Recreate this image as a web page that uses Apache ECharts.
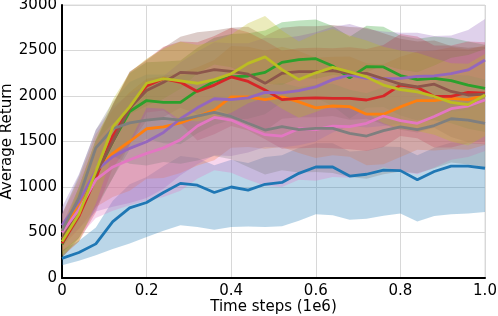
<!DOCTYPE html>
<html>
<head>
<meta charset="utf-8">
<script src="https://cdn.jsdelivr.net/npm/echarts@6/dist/echarts.min.js"></script>
<style>
html,body{margin:0;padding:0;background:#fff;}
#chart{width:498px;height:316px;}
</style>
</head>
<body>
<div id="chart"></div>
<script>
// time steps (1e6)
var steps = [0, 0.04, 0.08, 0.12, 0.16, 0.20, 0.24, 0.28, 0.32, 0.36, 0.40, 0.44, 0.48, 0.52, 0.56, 0.60, 0.64, 0.68, 0.72, 0.76, 0.80, 0.84, 0.88, 0.92, 0.96, 1.00];
var xTickLabels = ['0', '0.2', '0.4', '0.6', '0.8', '1.0'];
var yTickLabels = ['0', '500', '1000', '1500', '2000', '2500', '3000'];

// mean returns
var blueMean   = [216, 280, 375, 619, 770, 830, 940, 1040, 1020, 940, 1000, 965, 1030, 1050, 1150, 1220, 1220, 1120, 1140, 1185, 1180, 1080, 1170, 1230, 1230, 1206];
var orangeMean = [520, 820, 1180, 1370, 1500, 1640, 1660, 1705, 1775, 1845, 1990, 1990, 1960, 1990, 1935, 1870, 1890, 1883, 1800, 1800, 1880, 1950, 1950, 1975, 1960, 2011];
var greenMean  = [370, 720, 1130, 1500, 1830, 1950, 1930, 1930, 2060, 2160, 2210, 2220, 2260, 2370, 2400, 2410, 2330, 2200, 2322, 2320, 2225, 2180, 2194, 2170, 2120, 2084];
var redMean    = [380, 680, 1100, 1560, 1860, 2110, 2190, 2150, 2050, 2120, 2210, 2160, 2066, 1960, 1975, 1980, 1975, 1975, 1956, 2000, 2120, 2095, 1995, 1995, 2040, 2030];
var purpleMean = [580, 840, 1180, 1333, 1425, 1498, 1600, 1750, 1870, 1970, 1960, 1980, 2040, 2035, 2060, 2100, 2180, 2231, 2195, 2190, 2194, 2215, 2220, 2245, 2286, 2396];
var brownMean  = [430, 720, 1150, 1500, 1870, 2060, 2150, 2260, 2250, 2290, 2270, 2240, 2139, 2250, 2267, 2267, 2280, 2249, 2249, 2190, 2130, 2100, 2130, 2050, 2011, 2020];
var pinkMean   = [500, 750, 1080, 1220, 1300, 1370, 1430, 1520, 1670, 1765, 1736, 1650, 1575, 1560, 1640, 1630, 1670, 1663, 1700, 1780, 1730, 1700, 1775, 1860, 1890, 1956];
var grayMean   = [520, 880, 1430, 1640, 1705, 1736, 1755, 1736, 1780, 1820, 1775, 1700, 1626, 1663, 1630, 1645, 1645, 1590, 1560, 1620, 1660, 1630, 1675, 1750, 1736, 1700];
var oliveMean  = [400, 700, 1170, 1660, 1880, 2140, 2190, 2165, 2140, 2180, 2245, 2359, 2430, 2290, 2180, 2255, 2315, 2265, 2210, 2120, 2070, 2045, 1995, 1930, 1905, 2011];

// spread below / above the mean (shaded band)
var blueSpreadLo   = [75, 90, 125, 300, 390, 380, 420, 460, 460, 410, 440, 400, 470, 480, 520, 520, 530, 480, 490, 500, 470, 460, 490, 530, 520, 480];
var blueSpreadHi   = [90, 130, 180, 230, 260, 280, 290, 300, 300, 300, 300, 300, 300, 300, 280, 260, 260, 270, 260, 260, 260, 270, 260, 260, 260, 270];
var orangeSpread = [180, 280, 400, 480, 540, 550, 560, 550, 540, 550, 560, 550, 540, 550, 560, 550, 540, 550, 560, 550, 550, 540, 550, 560, 550, 550];
var greenSpread  = [150, 280, 380, 400, 420, 420, 450, 460, 470, 480, 470, 470, 460, 440, 430, 430, 440, 450, 450, 440, 440, 450, 460, 470, 480, 480];
var redSpread    = [150, 280, 380, 350, 400, 290, 350, 450, 540, 540, 540, 540, 540, 540, 550, 550, 550, 560, 560, 560, 560, 560, 560, 560, 560, 560];
var purpleSpread = [200, 300, 450, 550, 600, 620, 620, 620, 620, 620, 620, 600, 600, 600, 600, 600, 580, 560, 540, 520, 500, 480, 440, 420, 440, 450];
var brownSpread  = [150, 280, 370, 400, 400, 330, 380, 390, 450, 430, 480, 520, 520, 500, 500, 500, 500, 510, 500, 500, 500, 500, 480, 500, 520, 520];
var pinkSpread   = [200, 300, 420, 480, 500, 520, 540, 560, 580, 580, 580, 570, 560, 560, 560, 560, 560, 560, 560, 560, 560, 560, 560, 560, 560, 560];
var graySpread   = [180, 250, 200, 300, 450, 500, 480, 480, 490, 480, 470, 480, 490, 480, 470, 480, 490, 480, 470, 480, 490, 480, 470, 480, 490, 480];
var oliveSpread  = [150, 300, 350, 300, 380, 270, 330, 430, 420, 420, 430, 440, 450, 430, 420, 430, 420, 400, 400, 420, 430, 430, 420, 430, 450, 450];

var runs = [
  {name: 'blue',   color: '#1f77b4', mean: blueMean,   lo: blueSpreadLo, hi: blueSpreadHi},
  {name: 'orange', color: '#ff7f0e', mean: orangeMean, lo: orangeSpread, hi: orangeSpread},
  {name: 'green',  color: '#2ca02c', mean: greenMean,  lo: greenSpread,  hi: greenSpread},
  {name: 'red',    color: '#d62728', mean: redMean,    lo: redSpread,    hi: redSpread},
  {name: 'purple', color: '#9467bd', mean: purpleMean, lo: purpleSpread, hi: purpleSpread},
  {name: 'brown',  color: '#8c564b', mean: brownMean,  lo: brownSpread,  hi: brownSpread},
  {name: 'pink',   color: '#e377c2', mean: pinkMean,   lo: pinkSpread,   hi: pinkSpread},
  {name: 'gray',   color: '#7f7f7f', mean: grayMean,   lo: graySpread,   hi: graySpread},
  {name: 'olive',  color: '#bcbd22', mean: oliveMean,  lo: oliveSpread,  hi: oliveSpread}
];

var FONT = 'DejaVu Sans';
var series = [];
runs.forEach(function (r, k) {
  var bandData = steps.map(function (t, i) {
    return [t, r.mean[i] - r.lo[i], r.mean[i] + r.hi[i]];
  });
  series.push({
    type: 'custom',
    name: r.name + ' band',
    silent: true,
    clip: true,
    z: 1,
    data: bandData,
    encode: {x: 0, y: [1, 2]},
    renderItem: (function (data, color) {
      return function (params, api) {
        if (params.dataIndex !== 0) return null;
        var pts = [];
        for (var i = 0; i < data.length; i++) pts.push(api.coord([data[i][0], data[i][2]]));
        for (var j = data.length - 1; j >= 0; j--) pts.push(api.coord([data[j][0], data[j][1]]));
        return {
          type: 'polygon',
          shape: {points: pts},
          style: {fill: color, opacity: 0.3}
        };
      };
    })(bandData, r.color)
  });
});
runs.forEach(function (r, k) {
  series.push({
    type: 'line',
    name: r.name,
    data: steps.map(function (t, i) { return [t, r.mean[i]]; }),
    showSymbol: false,
    symbol: 'none',
    smooth: false,
    z: 10 + k,
    lineStyle: {color: r.color, width: 2.8},
    itemStyle: {color: r.color},
    animation: false
  });
});

var chart = echarts.init(document.getElementById('chart'), null, {renderer: 'canvas'});
chart.setOption({
  animation: false,
  backgroundColor: '#fff',
  grid: {left: 62, right: 13, top: 5, bottom: 38, containLabel: false, outerBoundsMode: 'none',
    show: true, borderColor: '#dcdcdc', borderWidth: 1, backgroundColor: 'transparent'},
  xAxis: {
    type: 'value', min: 0, max: 1, interval: 0.2,
    name: 'Time steps (1e6)', nameLocation: 'middle', nameGap: 22, nameMoveOverlap: false,
    nameTextStyle: {fontFamily: FONT, fontSize: 15, color: '#000'},
    axisLine: {show: true, onZero: false, lineStyle: {color: '#000', width: 2}},
    axisTick: {show: false},
    axisLabel: {fontFamily: FONT, fontSize: 15, color: '#000', margin: 6,
      formatter: function (v) { return xTickLabels[Math.round(v / 0.2)]; }},
    splitLine: {show: true, lineStyle: {color: '#d8d8d8', width: 1}}
  },
  yAxis: {
    type: 'value', min: 0, max: 3000, interval: 500,
    name: 'Average Return', nameLocation: 'middle', nameGap: 47, nameMoveOverlap: false,
    nameTextStyle: {fontFamily: FONT, fontSize: 15, color: '#000'},
    axisLine: {show: true, onZero: false, lineStyle: {color: '#000', width: 2}},
    axisTick: {show: false},
    axisLabel: {fontFamily: FONT, fontSize: 15, color: '#000', margin: 5,
      formatter: function (v) { return yTickLabels[Math.round(v / 500)]; }},
    splitLine: {show: true, lineStyle: {color: '#d8d8d8', width: 1}}
  },
  series: series
});
</script>
</body>
</html>
